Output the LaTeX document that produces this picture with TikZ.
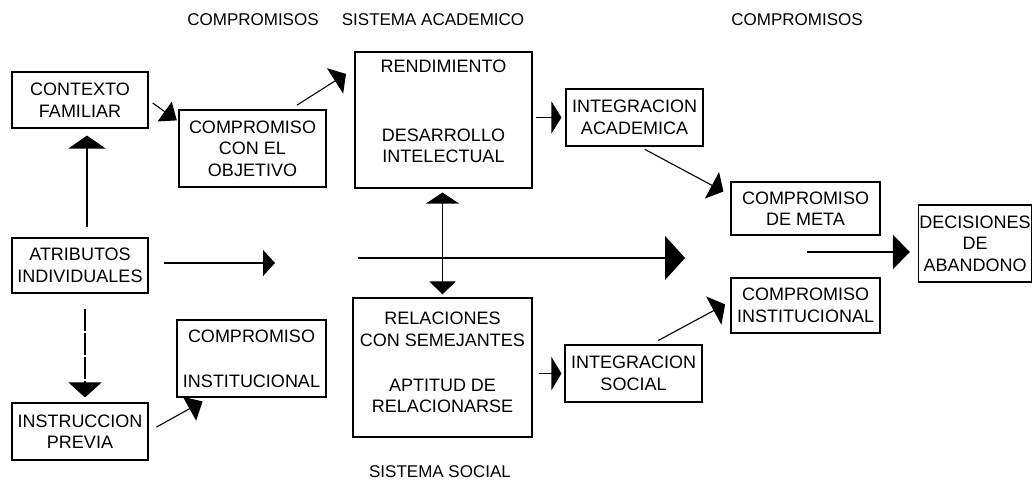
\documentclass[tikz,border=0pt]{standalone}
\usepackage{fontspec}
\setmainfont{Liberation Sans}
\usetikzlibrary{arrows.meta,positioning}

\begin{document}
\begin{tikzpicture}[x=1pt, y=1pt, line width=1.1pt,
  box/.style={draw, align=center, inner sep=1pt, font=\fontsize{18}{21.5}\selectfont},
  lbl/.style={inner sep=0pt, align=center, font=\fontsize{18}{21.5}\selectfont},
  hdr/.style={inner sep=0pt, anchor=base, font=\fontsize{17}{20}\selectfont},
  tri/.style 2 args={-{Triangle[length=#1,width=#2]}}]
  \useasboundingbox (0,0) rectangle (1034,485);
  % column headings
  \node[hdr] (hcomp) at (253,459) {COMPROMISOS};
  \node[hdr] (hacad) at (433,459) {SISTEMA ACADEMICO};
  \node[hdr] (hmeta) at (797,459) {COMPROMISOS};
  \node[hdr] (hsoc) at (440,8) {SISTEMA SOCIAL};
  % left column
  \node[box, minimum width=136pt, minimum height=56pt] (ctx) at (80,385) {CONTEXTO\\FAMILIAR};
  \node[box, minimum width=136pt, minimum height=55pt] (atr) at (80,219.5) {ATRIBUTOS\\INDIVIDUALES};
  \node[box, minimum width=136pt, minimum height=57pt] (instr) at (80,53.5) {INSTRUCCION\\PREVIA};
  \node[box, minimum width=147pt, minimum height=77pt] (cco) at (252.5,336.5) {COMPROMISO\\CON EL\\OBJETIVO};
  \node[box, minimum width=149pt, minimum height=77pt] (cinl) at (251.5,126.5) {COMPROMISO\\[23.5pt]INSTITUCIONAL};
  % systems
  \node[box, minimum width=177pt, minimum height=136pt] (acad) at (443.5,365) {};
  \node[lbl, below=8pt of acad.north] (rend) {RENDIMIENTO};
  \node[lbl, above=25pt of acad.south] (desa) {DESARROLLO\\INTELECTUAL};
  \node[box, minimum width=179pt, minimum height=139pt] (soc) at (442.5,117.5) {};
  \node[lbl, below=14pt of soc.north] (rela) {RELACIONES\\CON SEMEJANTES};
  \node[lbl, above=24pt of soc.south] (apti) {APTITUD DE\\RELACIONARSE};
  \node[box, minimum width=137pt, minimum height=57pt] (intac) at (634.5,367.5) {INTEGRACION\\ACADEMICA};
  \node[box, minimum width=137pt, minimum height=57pt] (intso) at (633.5,111.5) {INTEGRACION\\SOCIAL};
  % right column
  \node[box, minimum width=149pt, minimum height=53pt] (meta) at (805.5,276.5) {COMPROMISO\\DE META};
  \node[box, minimum width=149pt, minimum height=55pt] (cinst) at (805.5,179.5) {COMPROMISO\\INSTITUCIONAL};
  \node[box, minimum width=113pt, minimum height=77pt] (dec) at (975,241.5) {DECISIONES\\DE\\ABANDONO};
  % free ends
  \coordinate (atrend) at (275,222);
  \coordinate (lngA) at (358,227);
  \coordinate (lngB) at (685,227);
  \coordinate (decin) at (807,233);
  % arrows
  \draw[tri={13pt}{37pt}, shorten <=10pt, shorten >=7pt] ([xshift=7pt]atr.north) -- ([xshift=7pt]ctx.south);
  \draw[tri={15pt}{33pt}, dash pattern=on 22pt off 2pt, shorten <=15pt, shorten >=5pt] ([xshift=5pt]atr.south) -- ([xshift=5pt]instr.north);
  \draw[tri={15pt}{24pt}, shorten <=5pt, shorten >=2pt] (ctx.east) -- (cco.160);
  \draw[tri={13pt}{30pt}, shorten <=8pt, shorten >=10pt] (cco.46) -- (acad.150);
  \draw[tri={15pt}{27pt}, shorten <=9pt, shorten >=8pt] (instr.east) -- (cinl.223);
  \draw[tri={12pt}{26pt}, shorten <=15pt] (atr.east |- atrend) -- (atrend);
  \draw[tri={20pt}{44pt}] (lngA) -- (lngB);
  \draw[{Triangle[length=13pt,width=26pt]}-{Triangle[length=11pt,width=33pt]}, shorten <=3pt, shorten >=4pt] (soc.north) -- (soc.north |- acad.south);
  \draw[tri={10pt}{32pt}, shorten <=3pt, shorten >=4pt] (intac.west -| acad.east) -- (intac.west);
  \draw[tri={10pt}{33pt}, shorten <=6pt, shorten >=3pt] (intso.west -| soc.east) -- (intso.west);
  \draw[tri={13pt}{30pt}, shorten <=6pt, shorten >=8pt] (intac.-80) -- (meta.170);
  \draw[tri={13pt}{32pt}, shorten <=8pt, shorten >=6pt] (intso.59) -- (cinst.177);
  \draw[tri={17pt}{34pt}, shorten >=8pt] (decin) -- (decin -| dec.west);
\end{tikzpicture}
\end{document}
